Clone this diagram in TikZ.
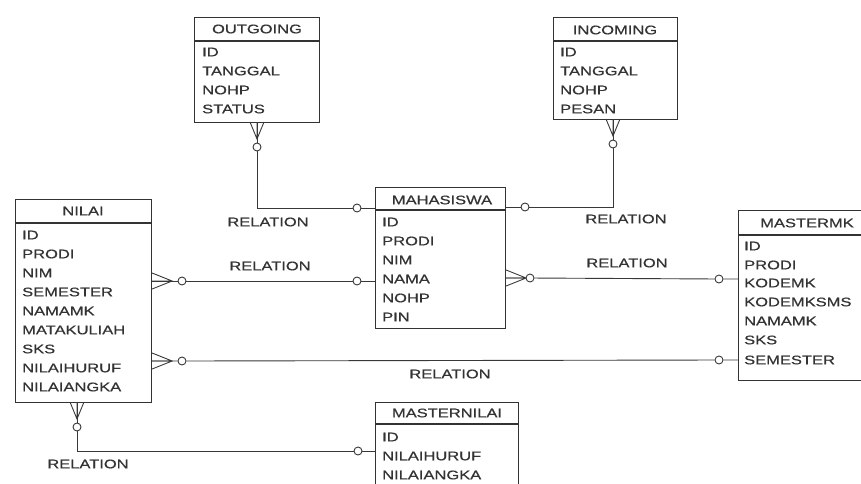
\documentclass[tikz,border=0pt]{standalone}
\usepackage{fontspec}
\setmainfont[FakeStretch=1.32,FakeBold=0.6]{Liberation Sans}
\usetikzlibrary{calc}
\begin{document}
\begin{tikzpicture}[x=1pt,y=-1pt,
  ent/.style={draw=black!80, line width=1.1pt, fill=white, inner sep=0pt, anchor=north west},
  sep/.style={draw=black!80, line width=1.1pt},
  hdr/.style={font=\fontsize{12.5}{13}\selectfont, text=black!80, inner sep=0pt},
  fld/.style={font=\fontsize{12.5}{13}\selectfont, text=black!80, inner sep=0pt, anchor=west},
  lbl/.style={font=\fontsize{12.5}{13}\selectfont, text=black!80, inner sep=0pt},
  rel/.style={draw=black!78, line width=0.9pt},
  opt/.style={circle, draw=black!78, fill=white, line width=0.9pt, minimum size=8pt, inner sep=0pt},
  pics/crowR/.style={code={\draw[rel] (0,-8) -- (20,0) -- (0,8) (0,0) -- (20,0);}},
  pics/crowD/.style={code={\draw[rel] (-7,0) -- (0,17) -- (7,0) (0,0) -- (0,17);}}
]
\useasboundingbox (0,0) rectangle (861,483);
\clip (0,0) rectangle (861,483);

% ---------- entities ----------
\node[ent, minimum width=125pt, minimum height=105pt] (out) at (194,17) {};
\draw[sep] ($(out.north west)+(0,24)$) -- ($(out.north east)+(0,24)$);
\node[hdr] (outh) at (257,29) {OUTGOING};
\node[fld] (out1) at (202,52) {ID};
\node[fld] (out2) at (202,71) {TANGGAL};
\node[fld] (out3) at (202,90) {NOHP};
\node[fld] (out4) at (202,109) {STATUS};

\node[ent, minimum width=124pt, minimum height=102pt] (inc) at (553,17) {};
\draw[sep] ($(inc.north west)+(0,24)$) -- ($(inc.north east)+(0,24)$);
\node[hdr] (inch) at (615,30) {INCOMING};
\node[fld] (inc1) at (560,52) {ID};
\node[fld] (inc2) at (560,71) {TANGGAL};
\node[fld] (inc3) at (560,90) {NOHP};
\node[fld] (inc4) at (560,109) {PESAN};

\node[ent, minimum width=136pt, minimum height=203pt] (nilai) at (15,199) {};
\draw[sep] ($(nilai.north west)+(0,24)$) -- ($(nilai.north east)+(0,24)$);
\node[hdr] (nilaih) at (83,211) {NILAI};
\node[fld] (n1) at (22,235) {ID};
\node[fld] (n2) at (22,254) {PRODI};
\node[fld] (n3) at (22,273) {NIM};
\node[fld] (n4) at (22,292) {SEMESTER};
\node[fld] (n5) at (22,311) {NAMAMK};
\node[fld] (n6) at (22,330) {MATAKULIAH};
\node[fld] (n7) at (22,349) {SKS};
\node[fld] (n8) at (22,368) {NILAIHURUF};
\node[fld] (n9) at (22,387) {NILAIANGKA};

\node[ent, minimum width=130pt, minimum height=141pt] (maha) at (375,187) {};
\draw[sep] ($(maha.north west)+(0,23)$) -- ($(maha.north east)+(0,23)$);
\node[hdr] (mahah) at (442,200) {MAHASISWA};
\node[fld] (m1) at (382,222) {ID};
\node[fld] (m2) at (382,241) {PRODI};
\node[fld] (m3) at (382,260) {NIM};
\node[fld] (m4) at (382,279) {NAMA};
\node[fld] (m5) at (382,298) {NOHP};
\node[fld] (m6) at (382,317) {PIN};

\node[ent, minimum width=140pt, minimum height=170pt] (mmk) at (738,210) {};
\draw[sep] ($(mmk.north west)+(0,25)$) -- ($(mmk.north east)+(0,25)$);
\node[hdr] (mmkh) at (807,223) {MASTERMK};
\node[fld] (k1) at (744,246) {ID};
\node[fld] (k2) at (744,265) {PRODI};
\node[fld] (k3) at (744,283) {KODEMK};
\node[fld] (k4) at (744,302) {KODEMKSMS};
\node[fld] (k5) at (744,321) {NAMAMK};
\node[fld] (k6) at (744,340) {SKS};
\node[fld] (k7) at (744,360) {SEMESTER};

\node[ent, minimum width=143pt, minimum height=100pt] (mnil) at (375,402) {};
\draw[sep] ($(mnil.north west)+(0,22)$) -- ($(mnil.north east)+(0,22)$);
\node[hdr] (mnilh) at (447,413) {MASTERNILAI};
\node[fld] (z1) at (382,437) {ID};
\node[fld] (z2) at (382,456) {NILAIHURUF};
\node[fld] (z3) at (382,475) {NILAIANGKA};

% ---------- OUTGOING - MAHASISWA ----------
\coordinate (r1a) at (257,122);
\pic at (r1a) {crowD};
\node[opt] (r1b) at (257,147) {};
\coordinate (r1k) at (257,208);
\node[opt] (r1c) at (357,208) {};
\draw[rel] (r1a) -- (r1b) -- (r1k) -- (r1c) -- (maha.west |- r1c);
\node[lbl] (l1) at (268,222) {RELATION};

% ---------- INCOMING - MAHASISWA ----------
\coordinate (r2a) at (613,119);
\pic at (r2a) {crowD};
\node[opt] (r2b) at (613,144) {};
\coordinate (r2k) at (613,207);
\node[opt] (r2c) at (525,207) {};
\draw[rel] (r2a) -- (r2b) -- (r2k) -- (r2c) -- (maha.east |- r2c);
\node[lbl] (l2) at (626,219) {RELATION};

% ---------- NILAI - MAHASISWA ----------
\coordinate (r3a) at (nilai.east |- 0,281);
\pic at (r3a) {crowR};
\node[opt] (r3b) at (182,281) {};
\node[opt] (r3c) at (357,281) {};
\draw[rel] (r3a) -- (r3b) -- (r3c) -- (maha.west |- r3c);
\node[lbl] (l3) at (270,266) {RELATION};

% ---------- MAHASISWA - MASTERMK ----------
\coordinate (r4a) at (maha.east |- 0,278);
\pic at (r4a) {crowR};
\node[opt] (r4b) at (530,278) {};
\node[opt] (r4c) at (719,279) {};
\draw[rel] (r4a) -- (r4b) -- (r4c) -- (mmk.west |- r4c);
\node[lbl] (l4) at (627,263) {RELATION};

% ---------- NILAI - MASTERMK ----------
\coordinate (r5a) at (nilai.east |- 0,361);
\pic at (r5a) {crowR};
\node[opt] (r5b) at (182,361) {};
\node[opt] (r5c) at (719,360) {};
\draw[rel] (r5a) -- (r5b) -- (r5c) -- (mmk.west |- r5c);
\node[lbl] (l5) at (450,374) {RELATION};

% ---------- NILAI - MASTERNILAI ----------
\coordinate (r6a) at (77,402);
\pic at (r6a) {crowD};
\node[opt] (r6b) at (77,427) {};
\coordinate (r6k) at (77,451);
\node[opt] (r6c) at (358,451) {};
\draw[rel] (r6a) -- (r6b) -- (r6k) -- (r6c) -- (mnil.west |- r6c);
\node[lbl] (l6) at (88,464) {RELATION};
\end{tikzpicture}
\end{document}
